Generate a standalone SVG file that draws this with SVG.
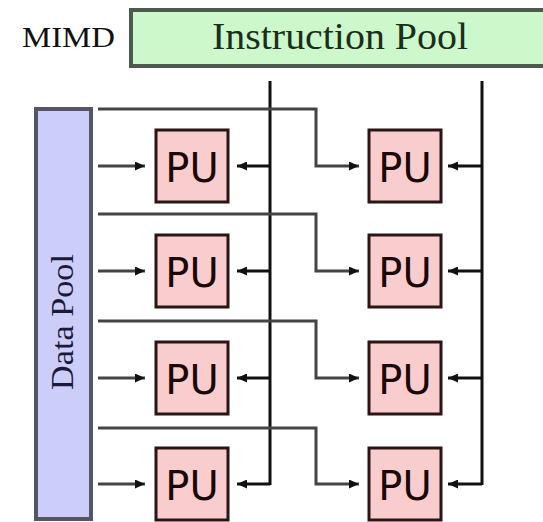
<svg xmlns="http://www.w3.org/2000/svg" width="543" height="522" viewBox="0 0 543 522">
  <defs>
    <marker id="arr" viewBox="0 0 10 9" refX="10" refY="4.5" markerWidth="10" markerHeight="9" markerUnits="userSpaceOnUse" orient="auto">
      <path d="M0,0 L10,4.5 L0,9 z" fill="#111"/>
    </marker>
    <style>
      .serif { font-family: "Liberation Serif", "Times New Roman", serif; }
      .pu rect { fill: #f9cdcd; stroke: #2a1414; stroke-width: 3; }
      .pu text { font-family: "DejaVu Sans", Verdana, sans-serif; font-size: 40px; fill: #1a0808; text-anchor: middle; }
      .data { fill: none; stroke: #444; stroke-width: 3; }
      .instr { fill: none; stroke: #111; stroke-width: 3; }
      .arrow { marker-end: url(#arr); }
    </style>
  </defs>
  <rect width="543" height="522" fill="#ffffff"/>

  <g id="mimd-label">
    <text class="serif" x="22" y="47" font-size="29" fill="#111" textLength="93" lengthAdjust="spacingAndGlyphs">MIMD</text>
  </g>

  <g id="instruction-pool">
    <rect x="131" y="10" width="420" height="56" fill="#ccf8cc" stroke="#4d5a4d" stroke-width="4"/>
    <text class="serif" x="212" y="49" font-size="37" fill="#1a2e1a" textLength="256" lengthAdjust="spacingAndGlyphs">Instruction Pool</text>
  </g>

  <g id="data-pool">
    <rect x="36" y="109" width="55" height="410" fill="#cdcdfa" stroke="#555566" stroke-width="4"/>
    <text class="serif" transform="translate(73,390) rotate(-90)" x="0" y="0" font-size="31" fill="#1a1a3a" textLength="136" lengthAdjust="spacingAndGlyphs">Data Pool</text>
  </g>

  <g id="connectors">
    <!-- instruction buses -->
    <path class="instr" d="M270,81 V485"/>
    <path class="instr" d="M482,81 V485"/>
    <!-- instruction arrows, column 1 -->
    <path class="instr arrow" d="M270,166 H237"/>
    <path class="instr arrow" d="M270,271 H237"/>
    <path class="instr arrow" d="M270,378 H237"/>
    <path class="instr arrow" d="M270,484 H237"/>
    <!-- instruction arrows, column 2 -->
    <path class="instr arrow" d="M482,166 H448"/>
    <path class="instr arrow" d="M482,271 H448"/>
    <path class="instr arrow" d="M482,378 H448"/>
    <path class="instr arrow" d="M482,484 H448"/>
    <!-- data arrows, column 1 -->
    <path class="data arrow" d="M98,166 H145"/>
    <path class="data arrow" d="M98,271 H145"/>
    <path class="data arrow" d="M98,378 H145"/>
    <path class="data arrow" d="M98,484 H145"/>
    <!-- data buses to column 2 -->
    <path class="data arrow" d="M98,109 H316 V166 H359"/>
    <path class="data arrow" d="M98,214 H316 V271 H359"/>
    <path class="data arrow" d="M98,321 H316 V378 H359"/>
    <path class="data arrow" d="M98,428 H316 V484 H359"/>
  </g>

  <g id="pu-1-1" class="pu"><rect x="156" y="130" width="72" height="72"/><text x="192" y="182">PU</text></g>
  <g id="pu-1-2" class="pu"><rect x="369" y="130" width="72" height="72"/><text x="405" y="182">PU</text></g>
  <g id="pu-2-1" class="pu"><rect x="156" y="235" width="72" height="72"/><text x="192" y="287">PU</text></g>
  <g id="pu-2-2" class="pu"><rect x="369" y="235" width="72" height="72"/><text x="405" y="287">PU</text></g>
  <g id="pu-3-1" class="pu"><rect x="156" y="342" width="72" height="72"/><text x="192" y="394">PU</text></g>
  <g id="pu-3-2" class="pu"><rect x="369" y="342" width="72" height="72"/><text x="405" y="394">PU</text></g>
  <g id="pu-4-1" class="pu"><rect x="156" y="448" width="72" height="72"/><text x="192" y="500">PU</text></g>
  <g id="pu-4-2" class="pu"><rect x="369" y="448" width="72" height="72"/><text x="405" y="500">PU</text></g>
</svg>
